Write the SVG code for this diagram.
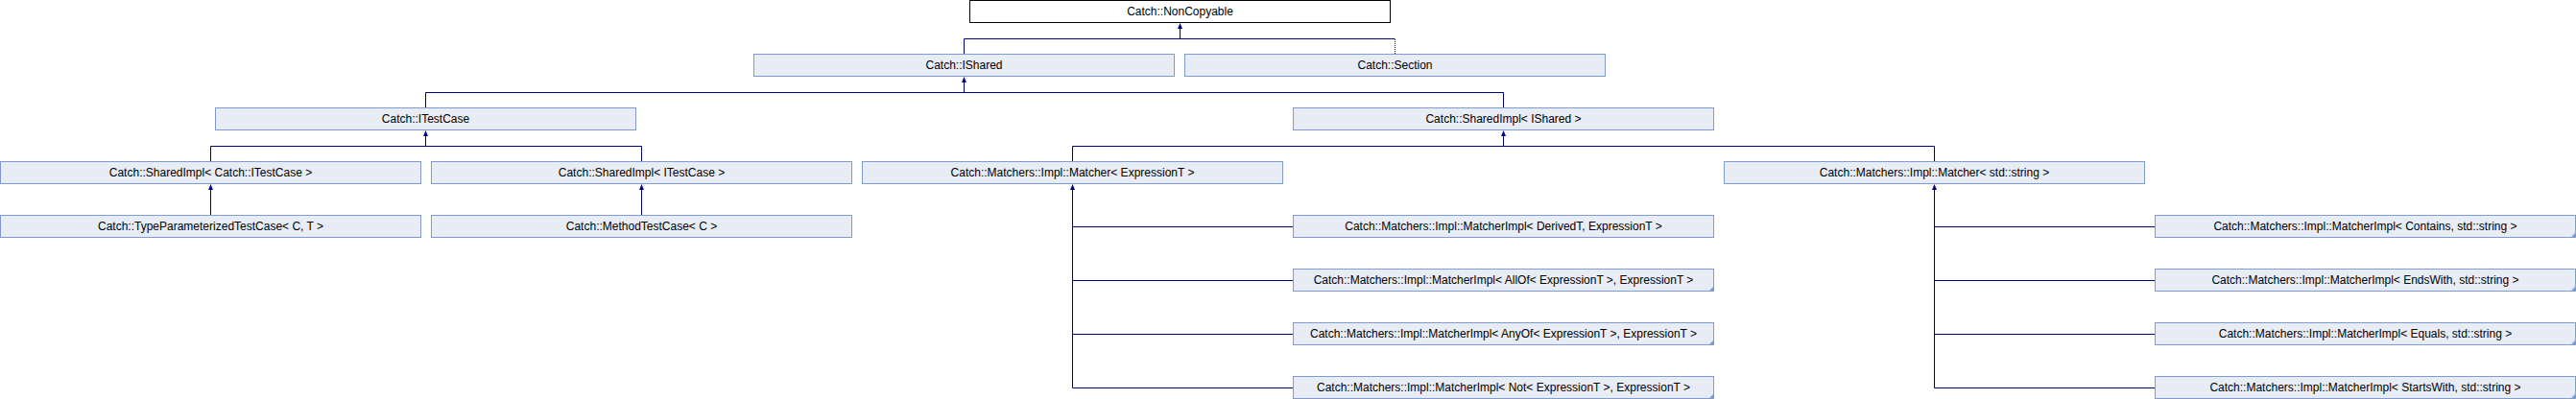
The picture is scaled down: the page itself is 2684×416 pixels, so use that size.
<svg xmlns="http://www.w3.org/2000/svg" width="2684" height="416" viewBox="0 0 2684 416">
<style>
.box{fill:#e8ecf5;stroke:#7f9bd4;stroke-width:1}
.cur{fill:#ffffff;stroke:#000000;stroke-width:1}
.lbl{font-family:"Liberation Sans",Arial,sans-serif;font-size:12px;fill:#000000;text-anchor:middle}
.ln{fill:none;stroke:#000080;stroke-width:1}
.priv{fill:none;stroke:#800000;stroke-width:1;stroke-dasharray:1 1}
.arr{fill:#000080;stroke:none}
.fold{fill:#7f9bd4;stroke:none}
</style>
<rect width="2684" height="416" fill="#ffffff"/>
<g id="connectors">
  <path class="ln" d="M1229.5,30 V40.5 M1004.5,40.5 H1453.5 M1004.5,40.5 V56"/>
  <path class="priv" d="M1453.5,41 V56"/>
  <polygon class="arr" points="1229.5,24 1227,30 1232,30"/>
  <path class="ln" d="M1004.5,86 V96.5 M443.5,96.5 H1566.5 M443.5,96.5 V112 M1566.5,96.5 V112"/>
  <polygon class="arr" points="1004.5,80 1002,86 1007,86"/>
  <path class="ln" d="M443.5,142 V152.5 M219.5,152.5 H668.5 M219.5,152.5 V168 M668.5,152.5 V168"/>
  <polygon class="arr" points="443.5,136 441,142 446,142"/>
  <path class="ln" d="M1566.5,142 V152.5 M1117.5,152.5 H2015.5 M1117.5,152.5 V168 M2015.5,152.5 V168"/>
  <polygon class="arr" points="1566.5,136 1564,142 1569,142"/>
  <path class="ln" d="M219.5,198 V224"/>
  <polygon class="arr" points="219.5,192 217,198 222,198"/>
  <path class="ln" d="M668.5,198 V224"/>
  <polygon class="arr" points="668.5,192 666,198 671,198"/>
  <path class="ln" d="M1117.5,198 V404.5 M1117.5,236.5 H1347 M1117.5,292.5 H1347 M1117.5,348.5 H1347 M1117.5,404.5 H1347"/>
  <polygon class="arr" points="1117.5,192 1115,198 1120,198"/>
  <path class="ln" d="M2015.5,198 V404.5 M2015.5,236.5 H2245 M2015.5,292.5 H2245 M2015.5,348.5 H2245 M2015.5,404.5 H2245"/>
  <polygon class="arr" points="2015.5,192 2013,198 2018,198"/>
</g>
<g id="n-noncopyable"><rect class="cur" x="1010.5" y="0.5" width="438" height="23"/><text class="lbl" x="1229.5" y="16">Catch::NonCopyable</text></g>
<g id="n-ishared"><rect class="box" x="785.5" y="56.5" width="438" height="23"/><text class="lbl" x="1004.5" y="72">Catch::IShared</text></g>
<g id="n-section"><rect class="box" x="1234.5" y="56.5" width="438" height="23"/><text class="lbl" x="1453.5" y="72">Catch::Section</text></g>
<g id="n-itestcase"><rect class="box" x="224.5" y="112.5" width="438" height="23"/><text class="lbl" x="443.5" y="128">Catch::ITestCase</text></g>
<g id="n-sharedimpl-ishared"><rect class="box" x="1347.5" y="112.5" width="438" height="23"/><text class="lbl" x="1566.5" y="128">Catch::SharedImpl&lt; IShared &gt;</text></g>
<g id="n-sharedimpl-catch-itestcase"><rect class="box" x="0.5" y="168.5" width="438" height="23"/><text class="lbl" x="219.5" y="184">Catch::SharedImpl&lt; Catch::ITestCase &gt;</text></g>
<g id="n-sharedimpl-itestcase"><rect class="box" x="449.5" y="168.5" width="438" height="23"/><text class="lbl" x="668.5" y="184">Catch::SharedImpl&lt; ITestCase &gt;</text></g>
<g id="n-matcher-expr"><rect class="box" x="898.5" y="168.5" width="438" height="23"/><text class="lbl" x="1117.5" y="184">Catch::Matchers::Impl::Matcher&lt; ExpressionT &gt;</text></g>
<g id="n-matcher-string"><rect class="box" x="1796.5" y="168.5" width="438" height="23"/><text class="lbl" x="2015.5" y="184">Catch::Matchers::Impl::Matcher&lt; std::string &gt;</text></g>
<g id="n-typeparam"><rect class="box" x="0.5" y="224.5" width="438" height="23"/><text class="lbl" x="219.5" y="240">Catch::TypeParameterizedTestCase&lt; C, T &gt;</text></g>
<g id="n-methodtestcase"><rect class="box" x="449.5" y="224.5" width="438" height="23"/><text class="lbl" x="668.5" y="240">Catch::MethodTestCase&lt; C &gt;</text></g>
<g id="n-impl-derived"><rect class="box" x="1347.5" y="224.5" width="438" height="23"/><text class="lbl" x="1566.5" y="240">Catch::Matchers::Impl::MatcherImpl&lt; DerivedT, ExpressionT &gt;</text></g>
<g id="n-impl-allof"><rect class="box" x="1347.5" y="280.5" width="438" height="23"/><polygon class="fold" points="1780,304 1786,304 1786,298"/><text class="lbl" x="1566.5" y="296">Catch::Matchers::Impl::MatcherImpl&lt; AllOf&lt; ExpressionT &gt;, ExpressionT &gt;</text></g>
<g id="n-impl-anyof"><rect class="box" x="1347.5" y="336.5" width="438" height="23"/><polygon class="fold" points="1780,360 1786,360 1786,354"/><text class="lbl" x="1566.5" y="352">Catch::Matchers::Impl::MatcherImpl&lt; AnyOf&lt; ExpressionT &gt;, ExpressionT &gt;</text></g>
<g id="n-impl-not"><rect class="box" x="1347.5" y="392.5" width="438" height="23"/><polygon class="fold" points="1780,416 1786,416 1786,410"/><text class="lbl" x="1566.5" y="408">Catch::Matchers::Impl::MatcherImpl&lt; Not&lt; ExpressionT &gt;, ExpressionT &gt;</text></g>
<g id="n-impl-contains"><rect class="box" x="2245.5" y="224.5" width="438" height="23"/><polygon class="fold" points="2678,248 2684,248 2684,242"/><text class="lbl" x="2464.5" y="240">Catch::Matchers::Impl::MatcherImpl&lt; Contains, std::string &gt;</text></g>
<g id="n-impl-endswith"><rect class="box" x="2245.5" y="280.5" width="438" height="23"/><polygon class="fold" points="2678,304 2684,304 2684,298"/><text class="lbl" x="2464.5" y="296">Catch::Matchers::Impl::MatcherImpl&lt; EndsWith, std::string &gt;</text></g>
<g id="n-impl-equals"><rect class="box" x="2245.5" y="336.5" width="438" height="23"/><polygon class="fold" points="2678,360 2684,360 2684,354"/><text class="lbl" x="2464.5" y="352">Catch::Matchers::Impl::MatcherImpl&lt; Equals, std::string &gt;</text></g>
<g id="n-impl-startswith"><rect class="box" x="2245.5" y="392.5" width="438" height="23"/><polygon class="fold" points="2678,416 2684,416 2684,410"/><text class="lbl" x="2464.5" y="408">Catch::Matchers::Impl::MatcherImpl&lt; StartsWith, std::string &gt;</text></g>
</svg>
